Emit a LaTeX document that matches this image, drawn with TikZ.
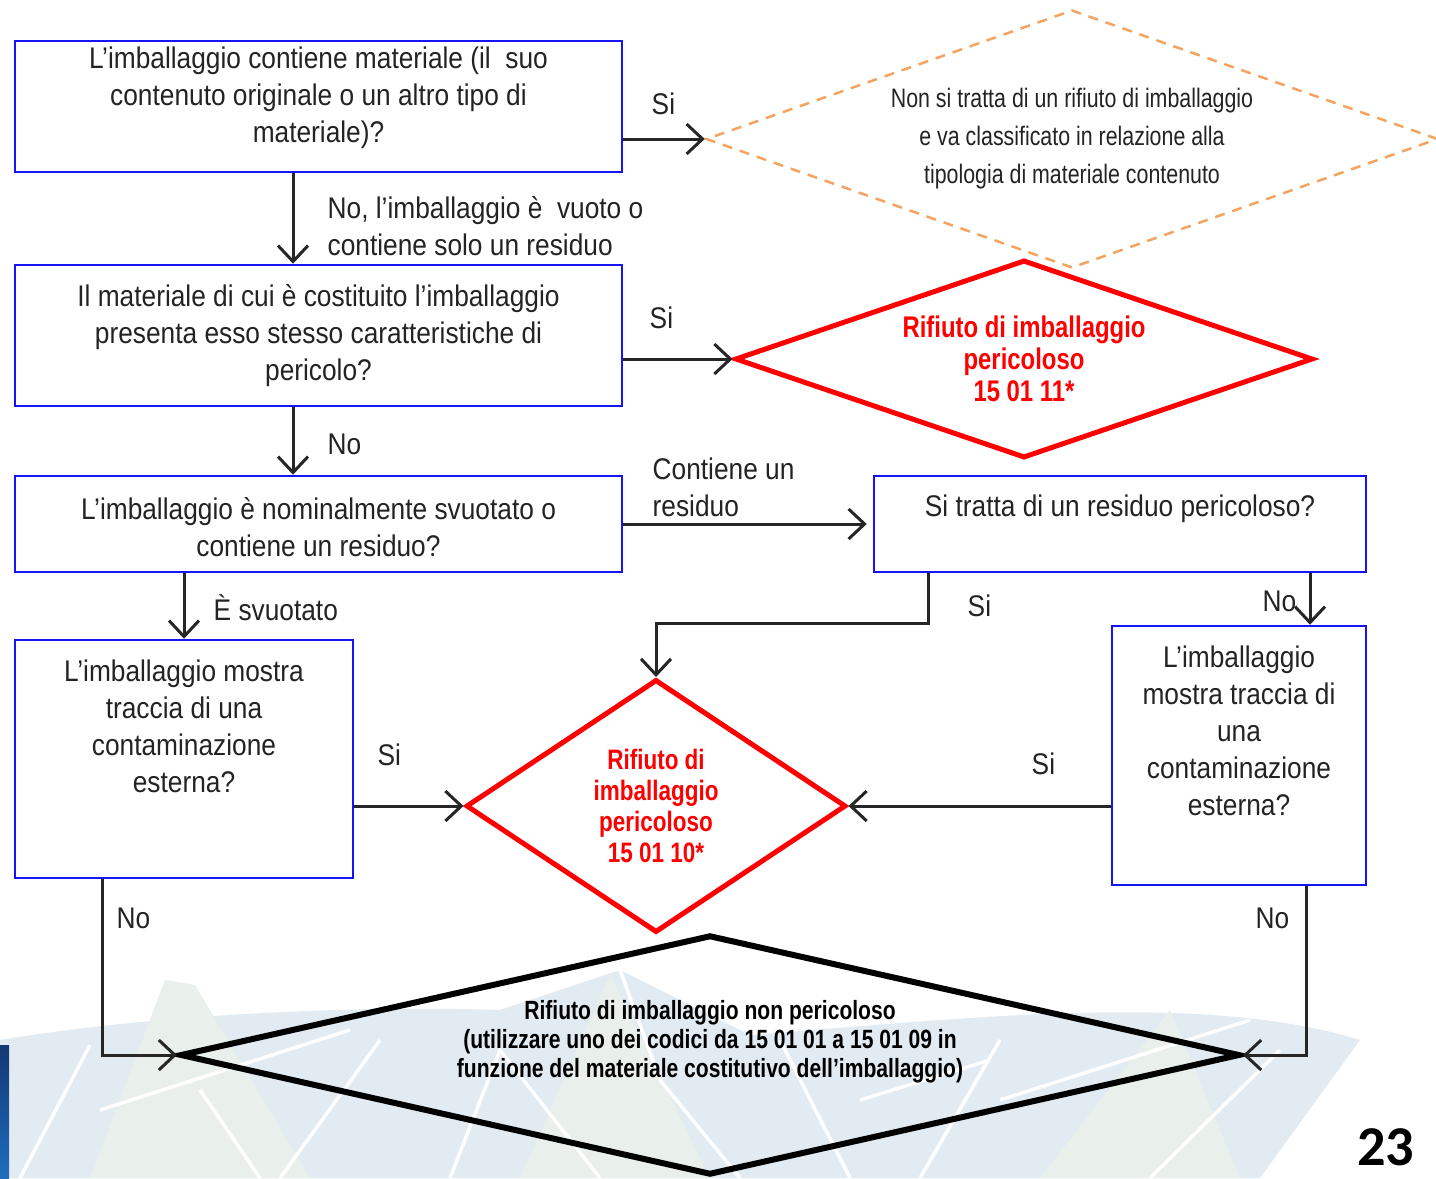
\documentclass[tikz,border=0pt]{standalone}
\usepackage{fontspec}
\setmainfont{Liberation Sans}[FakeStretch=0.88]
\newfontfamily\narrowfont{Liberation Sans}[FakeStretch=0.8]
\newfontfamily\numfont{Carlito}
\usetikzlibrary{shapes.geometric,arrows.meta,calc}

\definecolor{qblue}{RGB}{20,20,245}
\definecolor{dashorange}{RGB}{244,164,96}
\definecolor{hazred}{RGB}{255,0,0}
\definecolor{txtgray}{RGB}{35,35,35}
\definecolor{bgblue}{RGB}{226,234,242}
\definecolor{bggreen}{RGB}{233,240,235}
\definecolor{navy}{RGB}{20,55,115}
\definecolor{stripblue}{RGB}{30,110,190}

\newcommand{\qfont}{\fontsize{8.5}{10.5}\selectfont}
\newcommand{\notefont}{\narrowfont\fontsize{7.6}{10.8}\selectfont}
\newcommand{\hazfont}{\narrowfont\bfseries\fontsize{8.5}{9.1}\selectfont}
\newcommand{\hazsmall}{\narrowfont\bfseries\fontsize{8}{8.8}\selectfont}
\newcommand{\safefont}{\narrowfont\bfseries\fontsize{7.5}{8.2}\selectfont}

\begin{document}
\begin{tikzpicture}[x=1mm,y=-1mm,
  qbox/.style={draw=qblue, line width=0.25mm, rectangle, inner sep=0pt},
  qtext/.style={align=center, font=\qfont, text=txtgray},
  arr/.style={draw=black!85, line width=0.3mm, -{Straight Barb[length=1.6mm,width=3mm]}},
  lbl/.style={font=\qfont, text=txtgray, inner sep=0pt},
  hazard/.style={diamond, draw=hazred, line width=0.5mm, inner sep=0pt, align=center, text=hazred}
]
\useasboundingbox (0,0) rectangle (143.6,117.8);
\clip (0,0) rectangle (143.6,117.8);

% background at the bottom
\fill[bgblue] (0,104) .. controls (15,101.5) and (35,100.5) .. (50,101) -- (62,97) -- (75,103.5)
  .. controls (95,102) and (120,99) .. (136,104) -- (126,117.8) -- (0,117.8) -- cycle;
\fill[bggreen] (9,117.8) -- (16.5,98) -- (19.5,98.5) -- (31,117.8) -- cycle;
\fill[bggreen] (52,117.8) -- (61,97.5) -- (71,117.8) -- cycle;
\fill[bggreen] (104,117.8) -- (117,101) -- (124,117.8) -- cycle;
\draw[white, line width=0.35mm] (2,117.8) -- (9,104.5) (10,111) -- (35,103) (28,117.8) -- (38,104)
  (45,117.8) -- (50,105) -- (60,117.8) (78,104) -- (85,117.8) (92,117.8) -- (100,104)
  (100,110) -- (125,102) (115,117.8) -- (128,105) (62,97) -- (66,108) -- (74,117.8)
  (20,109) -- (26,117.8) (86,110) -- (99,106);
\shade[top color=navy, bottom color=stripblue] (0,104.5) rectangle (0.9,117.8);

% questions
\node[qbox, minimum width=60.7mm, minimum height=13.1mm,
  label={[qtext, yshift=0.85mm]center:{L’imballaggio contiene materiale (il\ \ suo\\contenuto originale o un altro tipo di\\materiale)?}}]
  (contenuto) at (31.85,10.65) {};
\node[qbox, minimum width=60.7mm, minimum height=14.1mm,
  label={[qtext]center:{Il materiale di cui è costituito l’imballaggio\\presenta esso stesso caratteristiche di\\pericolo?}}]
  (pericolo) at (31.85,33.55) {};
\node[qbox, minimum width=60.7mm, minimum height=9.6mm,
  label={[qtext, yshift=-0.3mm]center:{L’imballaggio è nominalmente svuotato o\\contiene un residuo?}}]
  (svuotato) at (31.85,52.4) {};
\node[qbox, minimum width=49.2mm, minimum height=9.6mm,
  label={[qtext, yshift=1.5mm]center:{Si tratta di un residuo pericoloso?}}]
  (residuo) at (112.0,52.4) {};
\node[qbox, minimum width=33.8mm, minimum height=23.8mm,
  label={[qtext, yshift=3.3mm]center:{L’imballaggio mostra\\traccia di una\\contaminazione\\esterna?}}]
  (contest) at (18.4,75.9) {};
\node[qbox, minimum width=25.4mm, minimum height=25.9mm,
  label={[qtext, yshift=2.5mm]center:{L’imballaggio\\mostra traccia di\\una\\contaminazione\\esterna?}}]
  (contint) at (123.9,75.55) {};

% outcomes
\node[diamond, draw=dashorange, dash pattern=on 1mm off 0.8mm, line width=0.25mm, aspect=2.84,
  minimum width=73.2mm, minimum height=25.8mm, inner sep=0pt, align=center, font=\notefont, text=txtgray]
  (nonrif) at (107.2,13.9) {Non si tratta di un rifiuto di imballaggio\\e va classificato in relazione alla\\tipologia di materiale contenuto};
\node[hazard, aspect=2.92, minimum width=57.8mm, minimum height=19.8mm, font=\hazfont]
  (peric11) at (102.4,35.9) {Rifiuto di imballaggio\\pericoloso\\15 01 11*};
\node[hazard, aspect=1.5, minimum width=38mm, minimum height=25.3mm, font=\hazsmall]
  (peric10) at (65.6,80.6) {Rifiuto di\\imballaggio\\pericoloso\\15 01 10*};
\node[diamond, draw=black, line width=0.6mm, aspect=4.4, minimum width=106mm, minimum height=24mm, inner sep=0pt,
  label={[align=center, font=\safefont, text=black, yshift=1.3mm]center:{Rifiuto di imballaggio non pericoloso\\(utilizzare uno dei codici da 15 01 01 a 15 01 09 in\\funzione del materiale costitutivo dell’imballaggio)}}]
  (nonperic) at (71.0,105.5) {};

% connectors
\coordinate (sielbow) at (65.6,62.3);
\coordinate (notop) at ([xshift=7.1mm]contint.north);
\draw[arr] (contenuto.east |- nonrif.west) -- (nonrif.west);
\draw[arr] ([xshift=-2.55mm]contenuto.south) -- ([xshift=-2.55mm]pericolo.north);
\draw[arr] (pericolo.east |- peric11.west) -- (peric11.west);
\draw[arr] ([xshift=-2.55mm]pericolo.south) -- ([xshift=-2.55mm]svuotato.north);
\draw[arr] (svuotato.east) -- ([xshift=-0.6mm]residuo.west);
\draw[arr] (contest.north |- svuotato.south) -- (contest.north);
\draw[arr] ([xshift=-19.2mm]residuo.south) |- (sielbow) -- (peric10.north);
\draw[arr] (notop |- residuo.south) -- (notop);
\draw[arr] (contest.east |- peric10.west) -- (peric10.west);
\draw[arr] (contint.west |- peric10.east) -- (peric10.east);
\draw[arr] ([xshift=-8.2mm]contest.south) |- (nonperic.west);
\draw[arr] ([xshift=6.7mm]contint.south) |- (nonperic.east);

% answers
\node[lbl, anchor=base west] (si1) at (65.1,11.4) {Si};
\node[lbl, anchor=west, align=left] (novuoto) at (32.7,22.65) {No, l’imballaggio è\ \ vuoto o\\contiene solo un residuo};
\node[lbl, anchor=base west] (si2) at (64.9,32.8) {Si};
\node[lbl, anchor=base west] (no3) at (32.7,45.4) {No};
\node[lbl, anchor=west, align=left] (contres) at (65.2,48.75) {Contiene un\\residuo};
\node[lbl, anchor=base west] (svuot) at (21.3,62.0) {È svuotato};
\node[lbl, anchor=base west] (si4) at (96.7,61.6) {Si};
\node[lbl, anchor=base east] (no4) at (129.7,61.1) {No};
\node[lbl, anchor=base west] (si5) at (37.7,76.5) {Si};
\node[lbl, anchor=base west] (si6) at (103.1,77.4) {Si};
\node[lbl, anchor=base west] (no5) at (11.6,92.8) {No};
\node[lbl, anchor=base west] (no6) at (125.5,92.8) {No};

% page number
\node[anchor=base east, inner sep=0pt, font=\numfont\bfseries\fontsize{16}{16}\selectfont] (pagenum) at (141.5,116.5) {23};
\end{tikzpicture}
\end{document}
